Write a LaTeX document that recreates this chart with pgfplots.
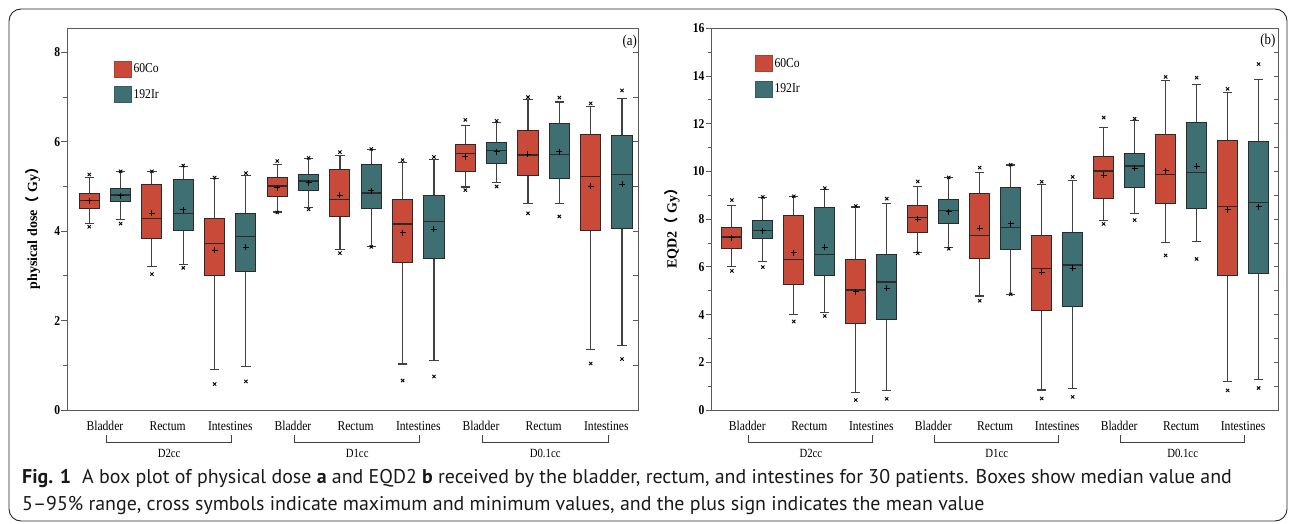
\documentclass[border=0pt]{standalone}
\usepackage{fontspec}
\setmainfont{Liberation Serif}
\newfontfamily\sq{Liberation Serif}[FakeStretch=0.86]
\newfontfamily\capfont{PT Sans}
\newfontfamily\cjk{Noto Sans CJK SC}
\usepackage{pgfplots}
\usepackage{pgfplotstable}
\usepgfplotslibrary{statistics}
\pgfplotsset{compat=1.18}

\definecolor{cored}{HTML}{C94A38}
\definecolor{irteal}{HTML}{3E6F73}
\definecolor{edge}{HTML}{2B2B2B}
\definecolor{axgray}{HTML}{5A5A5A}

\newcommand\ticksfont{\sq\bfseries\fontsize{13.5}{14}\selectfont}
\newcommand\catfont{\sq\fontsize{13.5}{14}\selectfont}

% physical dose (Gy): lower whisker, box, median, upper whisker, min, max, mean
% rows: D2cc, D1cc, D0.1cc x Bladder, Rectum, Intestines x 60Co, 192Ir
\pgfplotstableread{
lw   q1   med  q3   uw   mn   mx   mean
4.17 4.50 4.69 4.84 5.21 4.10 5.27 4.68
4.27 4.66 4.81 4.95 5.33 4.17 5.34 4.79
3.21 3.84 4.29 5.04 5.34 3.04 5.34 4.40
3.26 4.01 4.40 5.16 5.45 3.18 5.47 4.48
0.91 3.00 3.73 4.29 5.17 0.58 5.20 3.57
0.97 3.10 3.88 4.40 5.25 0.64 5.30 3.64
4.43 4.77 5.01 5.21 5.49 4.42 5.57 4.97
4.53 4.91 5.12 5.28 5.63 4.49 5.64 5.08
3.60 4.33 4.71 5.37 5.70 3.51 5.77 4.81
3.65 4.50 4.86 5.49 5.83 3.65 5.84 4.90
1.03 3.31 4.16 4.72 5.54 0.66 5.59 3.97
1.11 3.39 4.22 4.79 5.61 0.75 5.66 4.04
4.99 5.33 5.74 5.95 6.36 4.92 6.49 5.67
5.08 5.51 5.81 5.99 6.44 5.00 6.47 5.78
4.62 5.25 5.70 6.25 6.95 4.40 7.00 5.72
4.63 5.18 5.72 6.40 6.89 4.33 6.99 5.78
1.35 4.02 5.22 6.17 6.80 1.04 6.86 5.01
1.44 4.07 5.27 6.15 6.96 1.14 7.15 5.05
}\dosea

% EQD2 (Gy)
\pgfplotstableread{
lw   q1   med   q3    uw    mn   mx    mean
6.01 6.78 7.26  7.64  8.59  5.83 8.80  7.23
6.23 7.19 7.53  7.95  8.92  5.99 8.93  7.51
4.02 5.28 6.31  8.14  8.95  3.71 8.96  6.60
4.10 5.62 6.51  8.48  9.26  3.94 9.30  6.82
0.73 3.63 5.03  6.31  8.51  0.42 8.55  4.95
0.80 3.81 5.37  6.52  8.67  0.47 8.86  5.10
6.59 7.46 8.06  8.59  9.36  6.57 9.58  7.99
6.83 7.82 8.37  8.83  9.74  6.76 9.75  8.30
4.78 6.37 7.32  9.06  9.97  4.58 10.16 7.61
4.85 6.73 7.64  9.32  10.27 4.85 10.28 7.81
0.84 4.16 5.93  7.30  9.44  0.48 9.57  5.77
0.91 4.32 6.08  7.46  9.63  0.55 9.77  5.95
7.95 8.86 10.02 10.63 11.85 7.80 12.26 9.84
8.22 9.34 10.22 10.76 12.13 7.96 12.21 10.14
7.03 8.66 9.88  11.55 13.80 6.48 13.96 10.02
7.06 8.44 9.95  12.04 13.63 6.33 13.93 10.21
1.18 5.62 8.53  11.29 13.32 0.82 13.46 8.39
1.28 5.73 8.69  11.26 13.84 0.92 14.50 8.52
}\eqd

\pgfplotsset{
  boxpanel/.style={
    scale only axis, height=381.7pt, ymin=0,
    clip=false,
    axis line style={axgray, line width=0.9pt},
    xtick={1.5,3.5,...,17.5},
    xticklabels={Bladder,Rectum,Intestines,Bladder,Rectum,Intestines,Bladder,Rectum,Intestines},
    x tick style={draw=none},
    xticklabel style={font=\catfont, inner sep=0pt, anchor=north, yshift=-5pt},
    ytick pos=left, tick align=outside,
    y tick style={axgray, line width=0.9pt},
    major tick length=6pt, minor tick length=4pt,
    yticklabel style={font=\ticksfont, inner sep=1pt},
    /pgf/number format/assume math mode=true,
    boxplot/draw direction=y,
    boxplot/box extend=0.64,
    boxplot/whisker extend=0.3,
    boxplot/every whisker/.style={draw=black!75, line width=1.1pt},
    boxplot/every median/.style={draw=edge, line width=1.5pt},
    cycle list={
      {draw=black!75, /pgfplots/boxplot/every box/.style={fill=cored, draw=edge, line width=1pt}},
      {draw=black!75, /pgfplots/boxplot/every box/.style={fill=irteal, draw=edge, line width=1pt}}},
    legend cell align=left,
    legend style={draw=none, fill=none, inner sep=0pt, font=\catfont, row sep=9pt,
      nodes={inner sep=2pt}},
  },
  rightticks/.style={
    scale only axis, height=381.7pt, ymin=0,
    axis x line=none, axis y line*=right, axis line style={draw=none},
    yticklabels={}, tick align=inside, major tick length=5pt,
    y tick style={axgray, line width=0.9pt},
  },
  crossmk/.style={only marks, mark=x, mark size=2.3pt, mark options={black, line width=0.9pt}},
  meanmk/.style={only marks, mark=+, mark size=3pt, mark options={black, line width=1pt}},
}

% one prepared box from row #2 of table #1 (values expanded right away)
\newcommand\boxrow[2]{%
  \pgfplotstablegetelem{#2}{lw}\of#1\let\vlw\pgfplotsretval
  \pgfplotstablegetelem{#2}{q1}\of#1\let\vqa\pgfplotsretval
  \pgfplotstablegetelem{#2}{med}\of#1\let\vmed\pgfplotsretval
  \pgfplotstablegetelem{#2}{q3}\of#1\let\vqb\pgfplotsretval
  \pgfplotstablegetelem{#2}{uw}\of#1\let\vuw\pgfplotsretval
  \edef\doit{\noexpand\addplot+[boxplot prepared={lower whisker=\vlw,
    lower quartile=\vqa, median=\vmed, upper quartile=\vqb,
    upper whisker=\vuw}] coordinates {};}%
  \doit}

\newcommand\gbrack[4]{%
  \draw[black!75, line width=0.8pt] ([yshift=-25pt]axis cs:#1,0) -- ([yshift=-32pt]axis cs:#1,0)
    -- ([yshift=-32pt]axis cs:#2,0) -- ([yshift=-25pt]axis cs:#2,0);
  \node[font=\sq\fontsize{12.5}{13}\selectfont, inner sep=0pt] at ([yshift=-43pt]axis cs:#3,0) {#4};}

\newcommand\legendsquares{%
  \addlegendimage{legend image code/.code={\draw[fill=cored, draw=cored!85!black] (0pt,-8pt) rectangle (17pt,8pt);}}
  \addlegendentry{60Co}
  \addlegendimage{legend image code/.code={\draw[fill=irteal, draw=irteal!85!black] (0pt,-8pt) rectangle (17pt,8pt);}}
  \addlegendentry{192Ir}}

\begin{document}
\begin{tikzpicture}[x=1pt,y=1pt]
\useasboundingbox (0,0) rectangle (1295,523);
\draw[rounded corners=12pt, line width=0.9pt, black!85] (9,2) rectangle (1287,514);

% ---- panel (a)
\begin{axis}[boxpanel, at={(67.3pt,113pt)}, anchor=south west,
  width=571pt, xmin=0.3, xmax=18.52, ymax=8.54,
  ytick={0,2,4,6,8}, minor ytick={1,3,5,7},
  legend style={at={(0.0818,0.915)}, anchor=north west}]
\legendsquares
\pgfplotsinvokeforeach{0,...,17}{\boxrow{\dosea}{#1}}
\addplot[crossmk] table[x expr=\coordindex+1, y=mn] {\dosea};
\addplot[crossmk] table[x expr=\coordindex+1, y=mx] {\dosea};
\addplot[meanmk] table[x expr=\coordindex+1, y=mean] {\dosea};
\gbrack{1.55}{5.55}{3.55}{D2cc}
\gbrack{7.55}{11.55}{9.55}{D1cc}
\gbrack{13.55}{17.55}{15.55}{D0.1cc}
\node[font=\sq\fontsize{15}{16}\selectfont, inner sep=0pt] at (rel axis cs:0.985,0.965) {(a)};
\end{axis}
\begin{axis}[rightticks, at={(67.3pt,113pt)}, anchor=south west,
  width=571pt, xmin=0.3, xmax=18.52, ymax=8.54, ytick={1,...,8}]
\addplot[draw=none] coordinates {(1,1)};
\end{axis}
\node[rotate=90, font=\bfseries\fontsize{14}{15}\selectfont] at (32.7,298)
  {physical dose{\cjk （} Gy{\cjk ）}};

% ---- panel (b)
\begin{axis}[boxpanel, at={(711.7pt,113pt)}, anchor=south west,
  width=567pt, xmin=0.35, xmax=18.65, ymax=16,
  ytick={0,2,...,16}, minor ytick={1,3,...,15},
  legend style={at={(0.0764,0.930)}, anchor=north west}]
\legendsquares
\pgfplotsinvokeforeach{0,...,17}{\boxrow{\eqd}{#1}}
\addplot[crossmk] table[x expr=\coordindex+1, y=mn] {\eqd};
\addplot[crossmk] table[x expr=\coordindex+1, y=mx] {\eqd};
\addplot[meanmk] table[x expr=\coordindex+1, y=mean] {\eqd};
\gbrack{1.55}{5.55}{3.55}{D2cc}
\gbrack{7.55}{11.55}{9.55}{D1cc}
\gbrack{13.55}{17.55}{15.55}{D0.1cc}
\node[font=\sq\fontsize{15}{16}\selectfont, inner sep=0pt] at (rel axis cs:0.981,0.9675) {(b)};
\end{axis}
\begin{axis}[rightticks, at={(711.7pt,113pt)}, anchor=south west,
  width=567pt, xmin=0.35, xmax=18.65, ymax=16, ytick={1,...,16}]
\addplot[draw=none] coordinates {(1,1)};
\end{axis}
\node[rotate=90, font=\bfseries\fontsize{14}{15}\selectfont] at (672,298)
  {EQD2{\cjk （} Gy{\cjk ）}};

% ---- caption
\node[anchor=base west, inner sep=0pt, text=black!90, font=\capfont\fontsize{19.9}{23}\selectfont] at (22,40)
  {\textbf{Fig. 1}\hspace{0.55em}A box plot of physical dose \textbf{a} and EQD2 \textbf{b} received by the bladder, rectum, and intestines for 30 patients. Boxes show median value and};
\node[anchor=base west, inner sep=0pt, text=black!90, font=\capfont\fontsize{19.9}{23}\selectfont] at (22,13)
  {5–95\% range, cross symbols indicate maximum and minimum values, and the plus sign indicates the mean value};
\end{tikzpicture}
\end{document}
